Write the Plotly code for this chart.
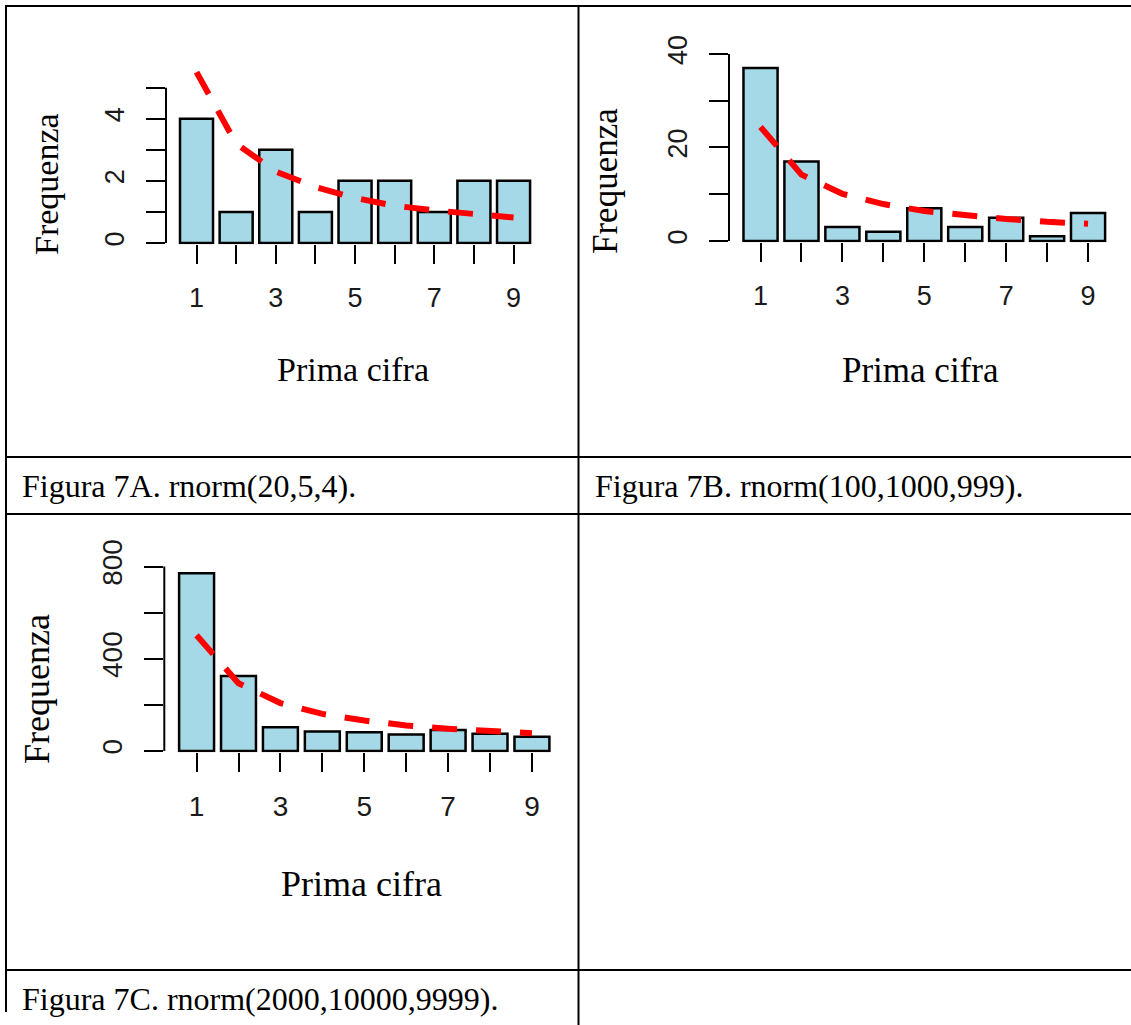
import plotly.graph_objects as go

W, H = 1131, 1025

# ---- data -------------------------------------------------------------
digits = [1, 2, 3, 4, 5, 6, 7, 8, 9]
digit_labels = ["1", "", "3", "", "5", "", "7", "", "9"]

# Figura 7A: rnorm(20,5,4)
freq_a = [4, 1, 3, 1, 2, 2, 1, 2, 2]
benford_a = [5.5, 3.2, 2.3, 1.8, 1.45, 1.2, 1.05, 0.92, 0.82]
yticks_a = [0, 1, 2, 3, 4, 5]
ylabels_a = ["0", "", "2", "", "4", ""]

# Figura 7B: rnorm(100,1000,999)
freq_b = [37, 17, 3, 2, 7, 3, 5, 1, 6]
benford_b = [24.4, 14.2, 10.1, 7.9, 6.4, 5.4, 4.7, 4.1, 3.7]
yticks_b = [0, 10, 20, 30, 40]
ylabels_b = ["0", "", "20", "", "40"]

# Figura 7C: rnorm(2000,10000,9999)
freq_c = [771, 325, 103, 85, 81, 72, 91, 75, 62]
benford_c = [502, 294, 208, 161, 132, 111, 97, 85, 77]
yticks_c = [0, 200, 400, 600, 800]
ylabels_c = ["0", "", "400", "", "800"]

captions = [
    "Figura 7A. rnorm(20,5,4).",
    "Figura 7B. rnorm(100,1000,999).",
    "Figura 7C. rnorm(2000,10000,9999).",
]

# ---- panel geometry (pixels on the page) ------------------------------
panels = [
    dict(freq=freq_a, exp=benford_a, yticks=yticks_a, ylabels=ylabels_a,
         axis_px=166, pitch=39.63, zero_px=243, ppu=31.07, yrange=[-0.04, 5.7],
         fs_tick=27, fs_title=34, xtitle=(353, 369), ytitle=(47, 184)),
    dict(freq=freq_b, exp=benford_b, yticks=yticks_b, ylabels=ylabels_b,
         axis_px=729, pitch=40.94, zero_px=241, ppu=4.675, yrange=[-0.25, 41.5],
         fs_tick=27, fs_title=35, xtitle=(920, 370), ytitle=(606, 181)),
    dict(freq=freq_c, exp=benford_c, yticks=yticks_c, ylabels=ylabels_c,
         axis_px=164.3, pitch=41.92, zero_px=751, ppu=0.2305, yrange=[-5, 830],
         fs_tick=28, fs_title=36, xtitle=(361, 884), ytitle=(37, 689)),
]

XLO, XHI = 0.23, 9.77
BAR_W = 1 / 1.2

SANS = "Liberation Sans, Arial, Helvetica, sans-serif"
SERIF = "Liberation Serif, Times New Roman, serif"


def px_x(x):
    return x / W


def px_y(y):
    return 1 - y / H


fig = go.Figure()
layout = dict(
    width=W, height=H, autosize=False,
    margin=dict(l=0, r=0, t=0, b=0, pad=0, autoexpand=False),
    paper_bgcolor="white", plot_bgcolor="white",
    showlegend=False,
)
shapes = []
annotations = []

for i, p in enumerate(panels, start=1):
    xa = "x" if i == 1 else f"x{i}"
    ya = "y" if i == 1 else f"y{i}"
    xkey = "xaxis" if i == 1 else f"xaxis{i}"
    ykey = "yaxis" if i == 1 else f"yaxis{i}"

    left = p["axis_px"]
    right = left + (XHI - XLO) * p["pitch"]
    bottom = p["zero_px"] - p["yrange"][0] * p["ppu"]
    top = p["zero_px"] - p["yrange"][1] * p["ppu"]

    fig.add_trace(go.Bar(
        x=digits, y=p["freq"], width=BAR_W, xaxis=xa, yaxis=ya,
        marker=dict(color="#A6D9E8", line=dict(color="black", width=2.5)),
    ))
    fig.add_trace(go.Scatter(
        x=digits, y=p["exp"], mode="lines", xaxis=xa, yaxis=ya,
        line=dict(color="#FF0000", width=6, dash="25px,19px"),
    ))

    layout[xkey] = dict(
        domain=[px_x(left), px_x(right)], range=[XLO, XHI], anchor=ya,
        automargin=False,
        tickmode="array", tickvals=digits, ticktext=digit_labels,
        ticks="outside", ticklen=19, tickwidth=2, tickcolor="black",
        showline=False, showgrid=False, zeroline=False,
        tickfont=dict(family=SANS, size=p["fs_tick"], color="#1a1a1a"),
        ticklabelstandoff=10,
    )
    layout[ykey] = dict(
        domain=[px_y(bottom), px_y(top)], range=p["yrange"], anchor=xa,
        automargin=False,
        tickmode="array", tickvals=p["yticks"], ticktext=p["ylabels"],
        tickangle=-90,
        ticks="outside", ticklen=19, tickwidth=2, tickcolor="black",
        showline=False, showgrid=False, zeroline=False,
        tickfont=dict(family=SANS, size=p["fs_tick"], color="#1a1a1a"),
        ticklabelstandoff=11,
    )

    # y axis line spanning the first to the last tick
    shapes.append(dict(
        type="line", xref=f"{xa} domain", yref=ya,
        x0=0, x1=0, y0=p["yticks"][0], y1=p["yticks"][-1],
        line=dict(color="black", width=2),
    ))

    annotations.append(dict(
        text="Prima cifra", xref="paper", yref="paper",
        x=px_x(p["xtitle"][0]), y=px_y(p["xtitle"][1]),
        xanchor="center", yanchor="middle", showarrow=False,
        font=dict(family=SERIF, size=p["fs_title"], color="black"),
    ))
    annotations.append(dict(
        text="Frequenza", xref="paper", yref="paper",
        x=px_x(p["ytitle"][0]), y=px_y(p["ytitle"][1]),
        xanchor="center", yanchor="middle", showarrow=False, textangle=-90,
        font=dict(family=SERIF, size=p["fs_title"], color="black"),
    ))

# ---- table frame ------------------------------------------------------
def hline(y, x0=6, x1=W):
    shapes.append(dict(type="line", xref="paper", yref="paper",
                       x0=px_x(x0), x1=px_x(x1), y0=px_y(y), y1=px_y(y),
                       line=dict(color="black", width=2)))


def vline(x, y0, y1):
    shapes.append(dict(type="line", xref="paper", yref="paper",
                       x0=px_x(x), x1=px_x(x), y0=px_y(y0), y1=px_y(y1),
                       line=dict(color="black", width=2)))


hline(6, 5)
hline(457)
hline(514)
hline(970)
vline(6, 5, 1012)
vline(578.5, 5, H)

# ---- captions ---------------------------------------------------------
for text, (cx, cy) in zip(captions, [(20, 486), (593, 486), (20, 999)]):
    annotations.append(dict(
        text=text, xref="paper", yref="paper",
        x=px_x(cx), y=px_y(cy), xanchor="left", yanchor="middle",
        showarrow=False,
        font=dict(family=SERIF, size=32, color="black"),
    ))

layout["shapes"] = shapes
layout["annotations"] = annotations
fig.update_layout(**layout)

fig.write_html("out.html")
